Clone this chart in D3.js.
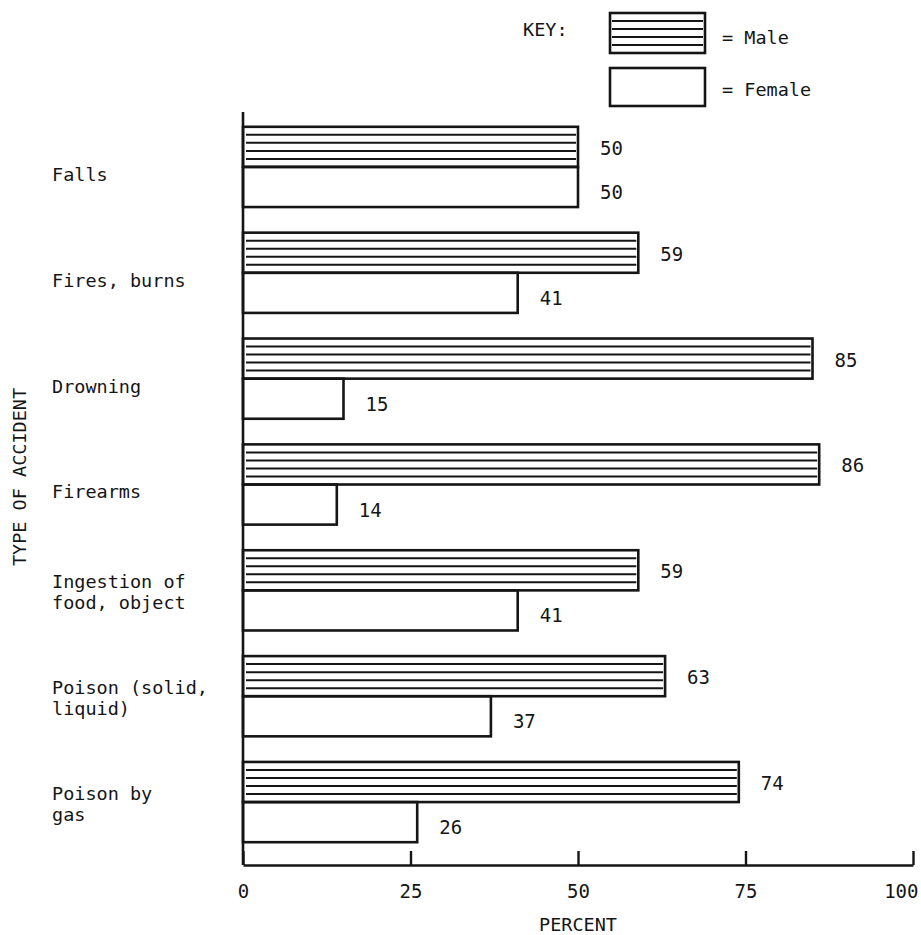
<!DOCTYPE html>
<html>
<head>
<meta charset="utf-8">
<script src="https://cdn.jsdelivr.net/npm/d3@7"></script>
<style>
  body { margin: 0; background: #fff; }
  text { font-family: "DejaVu Sans Mono", monospace; fill: #151515; }
</style>
</head>
<body>
<div id="chart"></div>
<script>
// accident types (one array entry per printed line)
const categories = ["Falls", "Fires, burns", "Drowning", "Firearms", "Ingestion", "Poison solid", "Poison gas"];
const categoryLines = [
  ["Falls"],
  ["Fires, burns"],
  ["Drowning"],
  ["Firearms"],
  ["Ingestion of", "food, object"],
  ["Poison (solid,", "liquid)"],
  ["Poison by", "gas"]
];
const male = [50, 59, 85, 86, 59, 63, 74];
const female = [50, 41, 15, 14, 41, 37, 26];
const tickValues = [0, 25, 50, 75, 100];

const width = 921;
const height = 935;
const ink = '#151515';

const svg = d3.select('#chart')
  .append('svg')
  .attr('width', width)
  .attr('height', height)
  .attr('viewBox', `0 0 ${width} ${height}`);

const x = d3.scaleLinear().domain([0, 100]).range([243, 913]);
const y = d3.scaleBand()
  .domain(categories)
  .range([114, 855])
  .paddingInner(0.242)
  .paddingOuter(0.121);
const sex = d3.scaleBand().domain(['Male', 'Female']).range([0, y.bandwidth()]);

const axisY = 865;

// bars
const rows = categories.map((c, i) => ({ cat: c, lines: categoryLines[i], m: male[i], f: female[i] }));

const group = svg.selectAll('.row')
  .data(rows)
  .enter().append('g')
  .attr('class', 'row')
  .attr('transform', d => `translate(0,${y(d.cat)})`);

const bh = sex.bandwidth();

// male bar: outlined box with horizontal ruling
group.append('rect')
  .attr('x', x(0))
  .attr('y', sex('Male'))
  .attr('width', d => x(d.m) - x(0))
  .attr('height', bh)
  .attr('fill', 'none')
  .attr('stroke', ink)
  .attr('stroke-width', 2.6);

group.each(function (d) {
  const g = d3.select(this);
  for (let k = 1; k < 5; k++) {
    g.append('line')
      .attr('x1', x(0) + 3)
      .attr('x2', x(d.m) - 2)
      .attr('y1', sex('Male') + k * bh / 5)
      .attr('y2', sex('Male') + k * bh / 5)
      .attr('stroke', ink)
      .attr('stroke-width', 2);
  }
});

// female bar: plain box
group.append('rect')
  .attr('x', x(0))
  .attr('y', sex('Female'))
  .attr('width', d => x(d.f) - x(0))
  .attr('height', bh)
  .attr('fill', 'none')
  .attr('stroke', ink)
  .attr('stroke-width', 2.6);

// value labels
group.append('text')
  .attr('x', d => x(d.m) + 22)
  .attr('y', sex('Male') + bh / 2 + 1)
  .attr('dominant-baseline', 'central')
  .style('font-size', '19px')
  .text(d => d.m);

group.append('text')
  .attr('x', d => x(d.f) + 22)
  .attr('y', sex('Female') + bh / 2 + 5)
  .attr('dominant-baseline', 'central')
  .style('font-size', '19px')
  .text(d => d.f);

// category labels
group.append('text')
  .attr('x', 52)
  .style('font-size', '18.5px')
  .selectAll('tspan')
  .data(d => d.lines.map((t, i) => ({ t, i, n: d.lines.length })))
  .enter().append('tspan')
  .attr('x', 52)
  .attr('y', p => y.bandwidth() / 2 + (p.n === 1 ? 14 : p.i * 21 - 2))
  .text(p => p.t);

// y axis line
svg.append('line')
  .attr('x1', x(0)).attr('x2', x(0))
  .attr('y1', 112).attr('y2', axisY)
  .attr('stroke', ink)
  .attr('stroke-width', 2.6);

// x axis
const xAxis = svg.append('g')
  .attr('transform', `translate(0,${axisY})`)
  .call(d3.axisBottom(x).tickValues(tickValues).tickSizeInner(-14).tickSizeOuter(0).tickPadding(20));

xAxis.select('.domain').attr('stroke', ink).attr('stroke-width', 2.6);
xAxis.selectAll('.tick line').attr('stroke', ink).attr('stroke-width', 2.4);
xAxis.selectAll('.tick text')
  .style('font-family', '"DejaVu Sans Mono", monospace')
  .style('font-size', '19px')
  .attr('fill', ink);
// last label sits inside the page edge as in the print
xAxis.selectAll('.tick text')
  .filter(d => d === 100)
  .attr('text-anchor', 'end')
  .attr('x', 5);

// axis titles
svg.append('text')
  .attr('x', 578)
  .attr('y', 931)
  .attr('text-anchor', 'middle')
  .style('font-size', '18.5px')
  .text('PERCENT');

svg.append('text')
  .attr('transform', 'translate(26,477) rotate(-90)')
  .attr('text-anchor', 'middle')
  .style('font-size', '18.5px')
  .text('TYPE OF ACCIDENT');

// key
const key = svg.append('g');
key.append('text').attr('x', 523).attr('y', 36).style('font-size', '18.5px').text('KEY:');

key.append('rect')
  .attr('x', 610).attr('y', 13).attr('width', 95).attr('height', 40)
  .attr('fill', 'none').attr('stroke', ink).attr('stroke-width', 2.6);
for (let k = 1; k < 5; k++) {
  key.append('line')
    .attr('x1', 612).attr('x2', 703)
    .attr('y1', 13 + k * 8).attr('y2', 13 + k * 8)
    .attr('stroke', ink).attr('stroke-width', 2);
}
key.append('text').attr('x', 722).attr('y', 44).style('font-size', '18.5px').text('= Male');

key.append('rect')
  .attr('x', 610).attr('y', 68).attr('width', 95).attr('height', 38)
  .attr('fill', 'none').attr('stroke', ink).attr('stroke-width', 2.6);
key.append('text').attr('x', 722).attr('y', 96).style('font-size', '18.5px').text('= Female');
</script>
</body>
</html>
